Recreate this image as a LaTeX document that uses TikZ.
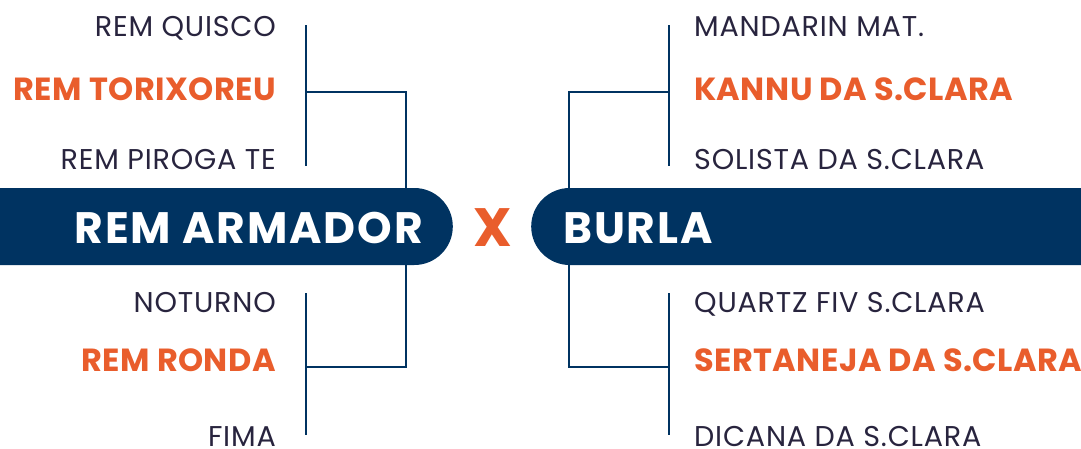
\documentclass[tikz,border=0pt]{standalone}
\usepackage{fontspec}
\setmainfont{Poppins}
\usetikzlibrary{positioning,calc}
\definecolor{navycol}{RGB}{0,51,97}
\definecolor{orangecol}{RGB}{233,93,44}
\definecolor{labelcol}{RGB}{40,36,62}

\begin{document}
\begin{tikzpicture}[
    x=1pt, y=-1pt,
    teambar/.style={fill=navycol, rounded corners=38.5pt, minimum height=77pt, inner sep=0pt},
    teamname/.style={text=white, font=\fontsize{44}{44}\selectfont\bfseries\addfontfeatures{LetterSpace=4.2}, inner sep=0pt},
    club/.style={text=labelcol, font=\fontsize{28.6}{28.6}\selectfont\addfontfeatures{LetterSpace=2.8}, inner sep=0pt},
    winner/.style={text=orangecol, font=\fontsize{32}{32}\selectfont\bfseries\addfontfeatures{LetterSpace=1.4}, inner sep=0pt},
    bracket/.style={draw=navycol, line width=2.5pt},
]
\useasboundingbox (0,0) rectangle (1081,448);
\clip (0,0) rectangle (1081,448);

% final bars
\node[teambar, minimum width=560pt, anchor=east] (homebar) at (453,226.5) {};
\node[teambar, minimum width=620pt, anchor=west] (awaybar) at (531,226.5) {};
\node[teamname, anchor=base east] (home) at (423,243) {REM ARMADOR};
\node[teamname, anchor=base west] (away) at (563,243) {BURLA};
\node[text=orangecol, font=\fontsize{54}{54}\selectfont\bfseries, inner sep=0pt, anchor=base] (vs) at (492.5,246) {X};

% left side clubs
\node[club, anchor=base east] (hq1) at (276,36) {REM QUISCO};
\node[winner, anchor=base east] (hw1) at (276,100) {REM TORIXOREU};
\node[club, anchor=base east] (hq2) at (276,169) {REM PIROGA TE};
\node[club, anchor=base east] (hq3) at (276,312) {NOTURNO};
\node[winner, anchor=base east] (hw2) at (276,371) {REM RONDA};
\node[club, anchor=base east] (hq4) at (276,446) {FIMA};

% right side clubs
\node[club, anchor=base west] (aq1) at (694,36) {MANDARIN MAT.};
\node[winner, anchor=base west] (aw1) at (694,100) {KANNU DA S.CLARA};
\node[club, anchor=base west] (aq2) at (694,169) {SOLISTA DA S.CLARA};
\node[club, anchor=base west] (aq3) at (694,312) {QUARTZ FIV S.CLARA};
\node[winner, anchor=base west] (aw2) at (694,371) {SERTANEJA DA S.CLARA};
\node[club, anchor=base west] (aq4) at (694,446) {DICANA DA S.CLARA};

% bracket points
\coordinate (ht1) at (306,25);  \coordinate (hb1) at (306,166); \coordinate (hm1) at (306,92);
\coordinate (ht2) at (306,293); \coordinate (hb2) at (306,435); \coordinate (hm2) at (306,367);
\coordinate (at1) at (669,25);  \coordinate (ab1) at (669,166); \coordinate (am1) at (669,92);
\coordinate (at2) at (669,293); \coordinate (ab2) at (669,435); \coordinate (am2) at (669,367);
\coordinate (hx) at (406,0);
\coordinate (ax) at (569,0);

\draw[bracket] (ht1) -- (hb1);
\draw[bracket] (hm1) -- (hm1 -| hx) -- (hx |- homebar.north);
\draw[bracket] (ht2) -- (hb2);
\draw[bracket] (hm2) -- (hm2 -| hx) -- (hx |- homebar.south);
\draw[bracket] (at1) -- (ab1);
\draw[bracket] (am1) -- (am1 -| ax) -- (ax |- awaybar.north);
\draw[bracket] (at2) -- (ab2);
\draw[bracket] (am2) -- (am2 -| ax) -- (ax |- awaybar.south);
\end{tikzpicture}
\end{document}
